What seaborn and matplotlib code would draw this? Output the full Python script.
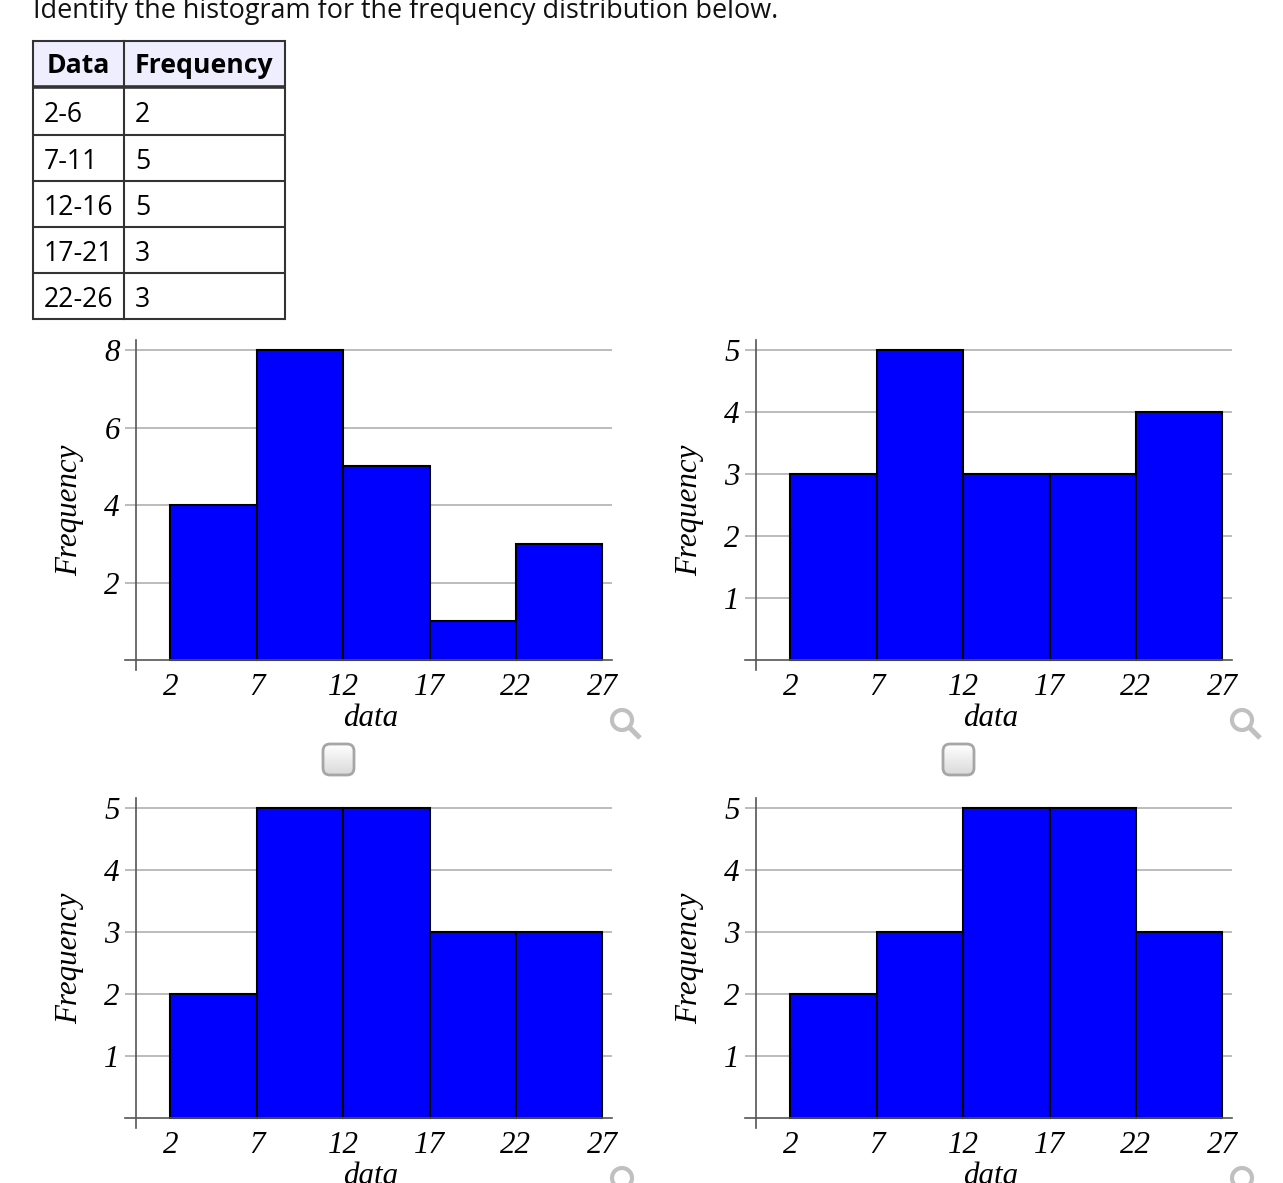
# -*- coding: utf-8 -*-
"""Four candidate histograms under a small frequency table."""

import numpy as np
import matplotlib
matplotlib.use("Agg")
import matplotlib.pyplot as plt
from matplotlib.patches import FancyBboxPatch, Circle
import seaborn as sns

# ---------------------------------------------------------------------------
# Data
# ---------------------------------------------------------------------------
QUESTION = "Identify the histogram for the frequency distribution below."
TABLE_HEADER = ["Data", "Frequency"]
TABLE_CLASSES = ["2-6", "7-11", "12-16", "17-21", "22-26"]
TABLE_FREQS = ["2", "5", "5", "3", "3"]

BIN_EDGES = [2, 7, 12, 17, 22, 27]
COUNTS_A = [4, 8, 5, 1, 3]
COUNTS_B = [3, 5, 3, 3, 4]
COUNTS_C = [2, 5, 5, 3, 3]
COUNTS_D = [2, 3, 5, 5, 3]
YTICKS_A = [2, 4, 6, 8]
YTICKS_OTHER = [1, 2, 3, 4, 5]

# ---------------------------------------------------------------------------
# Layout, in pixels of the 1283x1183 picture
# ---------------------------------------------------------------------------
W, H = 1283, 1183
AX_W, AX_H = 487, 330
PX_PER_X = 17.28
ZERO_X = 10.8  # y axis offset inside the axes box
PLOT_H = 310  # baseline to top tick


def draw_hist(fig, left, top, counts, yticks, label_y):
    ax = fig.add_axes([left / W, 1 - (top + AX_H) / H, AX_W / W, AX_H / H])
    mids = [(a + b) / 2 for a, b in zip(BIN_EDGES[:-1], BIN_EDGES[1:])]
    sns.histplot(x=mids, weights=counts, bins=BIN_EDGES, color="#0000ff",
                 edgecolor="black", linewidth=1.5, alpha=1, ax=ax)

    px_y = PLOT_H / yticks[-1]
    ax.set_xlim(-ZERO_X / PX_PER_X, (AX_W - ZERO_X) / PX_PER_X)
    ax.set_ylim(-10 / px_y, (AX_H - 10) / px_y)

    ax.set_xticks(BIN_EDGES)
    ax.set_yticks(yticks)
    ax.grid(axis="y", color="#aaaaaa", linewidth=1.1)
    ax.grid(axis="x", visible=False)
    ax.set_axisbelow(True)

    for side in ["top", "right"]:
        ax.spines[side].set_visible(False)
    for side in ["left", "bottom"]:
        ax.spines[side].set_position(("data", 0))
        ax.spines[side].set_color("#555555")
        ax.spines[side].set_linewidth(1.2)

    ax.tick_params(axis="x", direction="out", length=7, width=1.5,
                   color="black", labelcolor="black", pad=2.5, labelsize=22.3)
    ax.tick_params(axis="y", direction="inout", length=15, width=1.4,
                   color="#555555", labelcolor="black", pad=4, labelsize=22.3)

    ax.set_xlabel("data", fontsize=22.3, color="black")
    ax.set_ylabel("Frequency", fontsize=22.3, color="black")
    ax.xaxis.set_label_coords(246 / AX_W, -34 / AX_H)
    ax.yaxis.set_label_coords(-41 / AX_W, label_y)
    ax.patch.set_alpha(0)
    return ax


def draw_table(ov):
    xs = [33, 124, 285]
    ys = [41, 87, 135, 181, 227, 273, 319]
    ov.fill_between(xs[0:1] + xs[2:], ys[0], ys[1], color="#eeeeff", lw=0)
    edge = "#333333"
    for y in ys:
        ov.plot([xs[0], xs[2]], [y, y], color=edge,
                lw=2.6 if y == ys[1] else 1.5, solid_capstyle="butt")
    for x in xs:
        ov.plot([x, x], [ys[0], ys[-1]], color=edge, lw=1.5,
                solid_capstyle="projecting")

    font = dict(family="Open Sans", style="normal", va="center", color="black",
                fontsize=19.2)
    ov.text(78, 66, TABLE_HEADER[0], ha="center", fontweight="bold", **font)
    ov.text(204, 66, TABLE_HEADER[1], ha="center", fontweight="bold", **font)
    for i, (c, f) in enumerate(zip(TABLE_CLASSES, TABLE_FREQS)):
        y = (ys[i + 1] + ys[i + 2]) / 2 + 4
        ov.text(44, y, c, ha="left", **font)
        ov.text(135, y, f, ha="left", **font)


def draw_checkbox(ov, x, y):
    box = FancyBboxPatch((x + 5, y + 5), 21, 21, boxstyle="round,pad=5,rounding_size=7",
                         fc="none", ec="#a6a6a6", lw=2, zorder=4)
    ov.add_patch(box)
    grad = np.linspace(1, 0.85, 64).reshape(-1, 1)
    im = ov.imshow(grad, cmap="gray", vmin=0, vmax=1, extent=[x, x + 31, y + 31, y],
                   aspect="auto", zorder=3)
    im.set_clip_path(box)


def draw_magnifier(ov, x, y):
    ov.add_patch(Circle((x, y), 10, fc="none", ec="#c0c0c0", lw=3))
    ov.plot([x + 7, x + 18], [y + 7, y + 18], color="#c0c0c0", lw=3.6,
            solid_capstyle="butt")


def main():
    sns.set_theme(style="white")
    plt.rcParams["font.family"] = ["Liberation Serif", "DejaVu Serif"]
    plt.rcParams["font.style"] = "italic"

    fig = plt.figure(figsize=(W / 100, H / 100), dpi=100, facecolor="white")

    draw_hist(fig, 125, 340, COUNTS_A, YTICKS_A, 0.485)
    draw_hist(fig, 745, 340, COUNTS_B, YTICKS_OTHER, 0.485)
    draw_hist(fig, 125, 798, COUNTS_C, YTICKS_OTHER, 0.515)
    draw_hist(fig, 745, 798, COUNTS_D, YTICKS_OTHER, 0.515)

    # overlay in pixel coordinates for the page furniture
    ov = fig.add_axes([0, 0, 1, 1], zorder=5)
    ov.set_axis_off()
    ov.patch.set_alpha(0)

    ov.text(33, 18, QUESTION, family="Open Sans", style="normal", fontsize=19.48,
            color="#111111", ha="left", va="baseline")
    draw_table(ov)
    draw_checkbox(ov, 323, 744)
    draw_checkbox(ov, 943, 744)
    for x, y in [(622, 720), (1242, 720), (622, 1178), (1242, 1178)]:
        draw_magnifier(ov, x, y)

    ov.set_xlim(0, W)
    ov.set_ylim(H, 0)

    fig.savefig("out.png", dpi=100)
    plt.close(fig)


if __name__ == "__main__":
    main()
